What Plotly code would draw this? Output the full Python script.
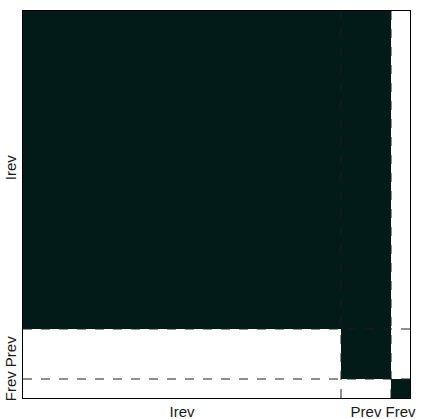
import numpy as np
import plotly.graph_objects as go

# Block structure of the matrix (number of members in each group)
groups = ["Irev", "Prev", "Frev"]
group_sizes = [318, 50, 19]

# Block occupancy: rows = from-group, columns = to-group (1 = filled)
block_matrix = [
    [1, 1, 0],
    [0, 1, 0],
    [0, 0, 1],
]

fill_color = "#021b19"

edges = np.concatenate([[0], np.cumsum(group_sizes)])
centers = (edges[:-1] + edges[1:]) / 2
total = edges[-1]

fig = go.Figure(
    go.Heatmap(
        x=edges,
        y=edges,
        z=block_matrix,
        colorscale=[[0, "white"], [1, fill_color]],
        zmin=0,
        zmax=1,
        showscale=False,
        hoverinfo="skip",
    )
)

# Dashed separators between the groups
shapes = []
for b in edges[1:-1]:
    shapes.append(dict(type="line", x0=b, x1=b, y0=0, y1=total,
                       line=dict(color="#1e1e1e", width=1, dash="dash")))
    shapes.append(dict(type="line", x0=0, x1=total, y0=b, y1=b,
                       line=dict(color="#1e1e1e", width=1, dash="dash")))

axis_common = dict(
    range=[0, total],
    showgrid=False,
    zeroline=False,
    ticks="",
    showline=True,
    linecolor="black",
    linewidth=1,
    mirror=True,
    automargin=False,
    tickfont=dict(family="Liberation Sans, Arial, sans-serif", size=15, color="#1a1a1a"),
)

fig.update_layout(
    width=424,
    height=419,
    margin=dict(l=23, r=14, t=11, b=21),
    paper_bgcolor="white",
    plot_bgcolor="white",
    shapes=shapes,
    xaxis=dict(**axis_common, tickvals=centers, ticktext=groups, ticklabelstandoff=0),
    yaxis=dict(**axis_common, tickvals=centers, ticktext=groups, tickangle=-90,
               ticklabelstandoff=0, autorange=False),
)
fig.update_yaxes(range=[total, 0])

fig.write_html("out.html")
